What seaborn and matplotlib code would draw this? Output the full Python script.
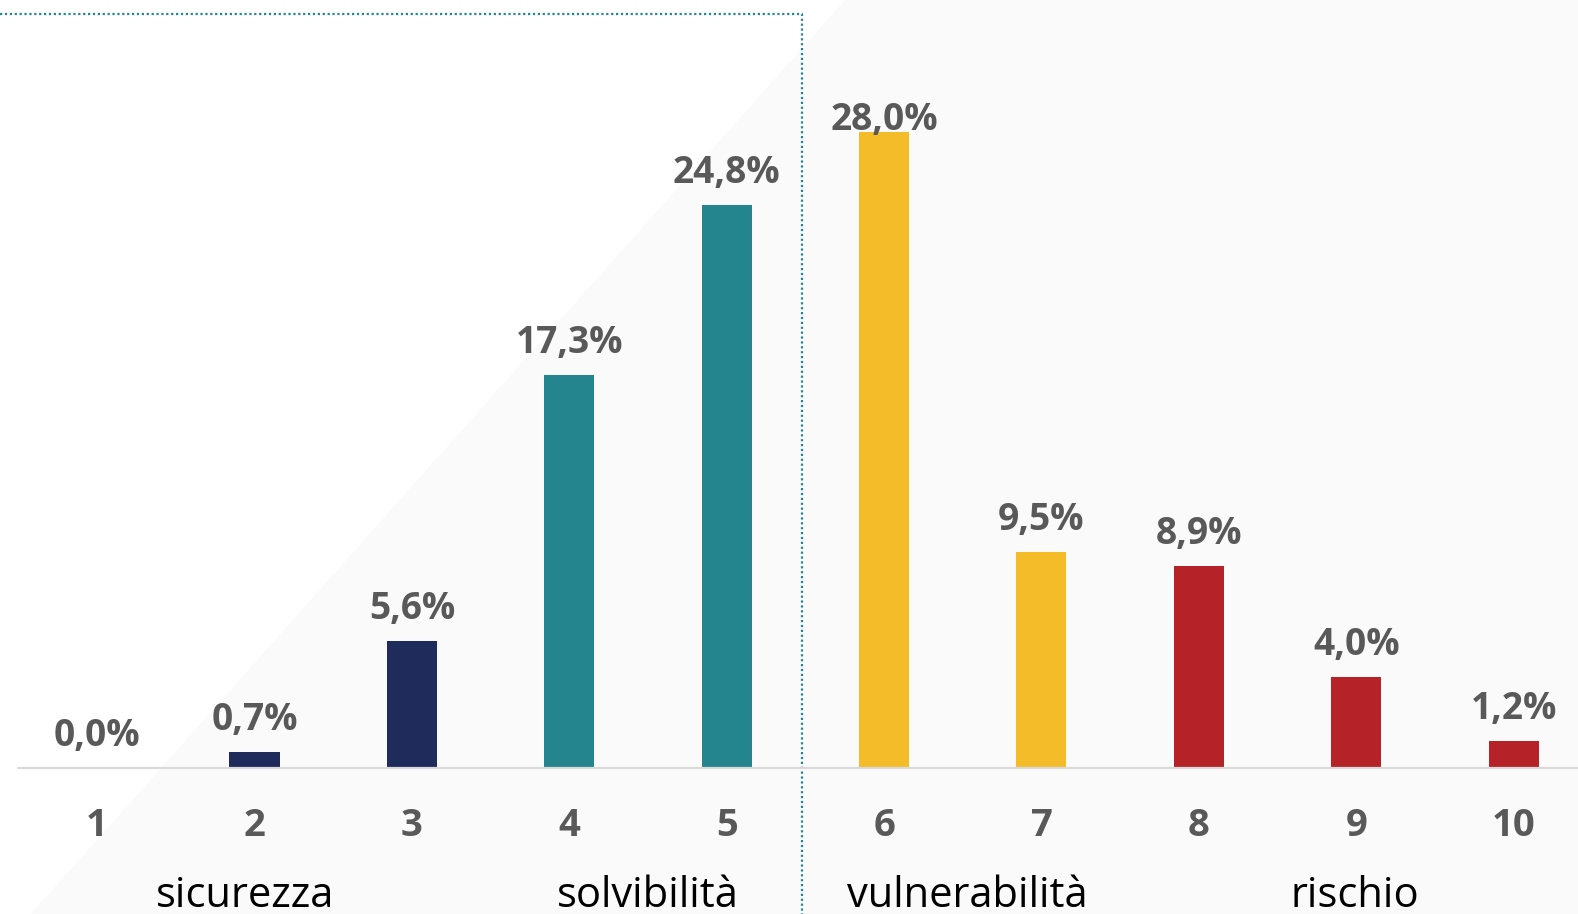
import matplotlib
matplotlib.use("Agg")
import matplotlib.pyplot as plt
from matplotlib import font_manager
import seaborn as sns
import pandas as pd

# data
classes = ["1", "2", "3", "4", "5", "6", "7", "8", "9", "10"]
shares = [0.0, 0.7, 5.6, 17.3, 24.8, 28.0, 9.5, 8.9, 4.0, 1.2]
bar_colors = ["#1F2B5B", "#1F2B5B", "#1F2B5B", "#25858F", "#25858F",
              "#F5BC2A", "#F5BC2A", "#B52227", "#B52227", "#B52227"]
group_names = ["sicurezza", "solvibilità", "vulnerabilità", "rischio"]
group_pos = [0.94, 3.5, 5.53, 7.99]

sns.set_theme(style="white")
installed = {f.name for f in font_manager.fontManager.ttflist}
font = "Liberation Sans Narrow" if "Liberation Sans Narrow" in installed else "Open Sans"
plt.rcParams["font.family"] = [font, "DejaVu Sans"]

df = pd.DataFrame({"classe": classes, "quota": shares})

fig = plt.figure(figsize=(15.78, 9.14), dpi=100)
ax = fig.add_axes([0, 0, 1, 1])
xmin, xmax = -0.617, 9.409
ymin, ymax = -6.43, 33.83

# light grey background wedge
ax.fill([4.75, xmax, xmax, -0.42], [ymax, ymax, ymin, ymin],
        color="#FAFAFA", zorder=0, lw=0)

sns.barplot(data=df, x="classe", y="quota", hue="classe", palette=bar_colors,
            legend=False, width=0.318, ax=ax, zorder=3, saturation=1, linewidth=0)

ax.plot([-0.5, xmax], [0, 0], color="#D9D9D9", lw=1.6, zorder=4)

# dotted frame around the first two groups
ax.plot([xmin, 4.48, 4.48], [33.2, 33.2, ymin], color="#25858F",
        lw=1.6, ls=(0, (1, 1.2)), zorder=1)

gray = "#595959"
for i, v in enumerate(shares):
    ylab = min(v + 0.97, 28.1)
    ax.text(i, ylab, f"{v:.1f}%".replace(".", ","), ha="center", va="baseline",
            fontsize=26.7, fontweight="bold", color=gray, zorder=4)
    ax.text(i, -2.99, classes[i], ha="center", va="baseline",
            fontsize=27.5, fontweight="bold", color=gray)

for name, x in zip(group_names, group_pos):
    ax.text(x, -6.1, name, ha="center", va="baseline", fontsize=30, color="black")

ax.set_xlim(xmin, xmax)
ax.set_ylim(ymin, ymax)
ax.axis("off")

fig.savefig("out.png", dpi=100, facecolor="white")
